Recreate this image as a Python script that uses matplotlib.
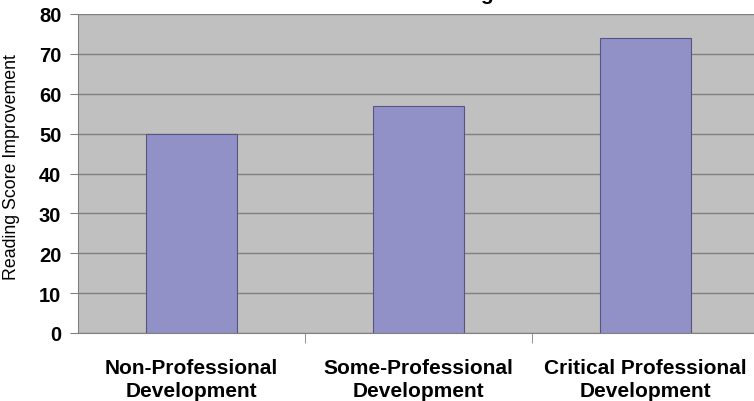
import matplotlib.pyplot as plt

plt.rcParams["font.family"] = ["Liberation Sans", "DejaVu Sans"]

categories = ["Non-Professional\nDevelopment", "Some-Professional\nDevelopment",
              "Critical Professional\nDevelopment"]
scores = [50, 57, 74]
y_ticks = [0, 10, 20, 30, 40, 50, 60, 70, 80]

fig = plt.figure(figsize=(7.54, 4.02), dpi=100)
ax = fig.add_axes([78 / 754, 1 - 334 / 402, 681 / 754, 319 / 402])
ax.set_facecolor("#c0c0c0")

x = list(range(len(categories)))
ax.bar(x, scores, width=0.4, color="#9191c8", edgecolor="#55557f", linewidth=0.8, zorder=3)

ax.set_xlim(-0.5, len(categories) - 0.5)
ax.set_ylim(0, 80)
ax.set_yticks(y_ticks)
ax.set_yticklabels([str(v) for v in y_ticks], fontsize=14.5, fontweight="bold")
ax.yaxis.grid(True, color="#808080", linewidth=1, zorder=1)

ax.set_xticks(x)
ax.set_xticklabels(categories, fontsize=15, fontweight="bold", linespacing=1.25)
ax.tick_params(axis="x", length=0, pad=18)
ax.set_xticks([0.5, 1.5], minor=True)
ax.tick_params(axis="x", which="minor", length=7, color="#808080")
ax.tick_params(axis="y", length=6, color="#808080", pad=6)

for s in ["top", "right"]:
    ax.spines[s].set_visible(False)
ax.spines["left"].set_color("#808080")
ax.spines["bottom"].set_color("#808080")

ax.set_ylabel("Reading Score Improvement", fontsize=12.8)
ax.yaxis.set_label_coords(-0.085, 0.523)

# title sits above the visible area, only a descender peeks in
fig.text(494 / 754, 1.0, "Professional Learning", ha="right", va="baseline",
         fontsize=15, fontweight="bold")

fig.savefig("out.png", dpi=100)
